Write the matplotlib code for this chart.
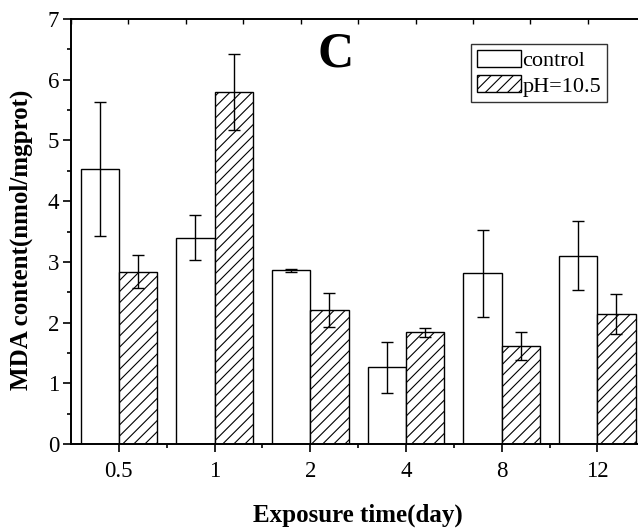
import numpy as np
import matplotlib.pyplot as plt
from matplotlib.ticker import MultipleLocator, FixedLocator

plt.rcParams['font.family'] = ['Liberation Serif', 'DejaVu Serif']
plt.rcParams['hatch.linewidth'] = 0.8

days = ['0.5', '1', '2', '4', '8', '12']
control = [4.53, 3.40, 2.86, 1.26, 2.81, 3.10]
control_err = [1.11, 0.37, 0.02, 0.42, 0.72, 0.57]
ph = [2.84, 5.80, 2.21, 1.84, 1.61, 2.14]
ph_err = [0.27, 0.62, 0.28, 0.07, 0.23, 0.33]

fig = plt.figure(figsize=(6.38, 5.29), dpi=100)
ax = fig.add_axes([0.1113, 0.1607, 0.9, 0.8033])

x = np.arange(len(days))
w = 0.4
err_kw = dict(ecolor='black', elinewidth=1, capsize=4.5, capthick=1)
ax.bar(x - w / 2, control, w, yerr=control_err, color='white', edgecolor='black',
       linewidth=1, label='control', error_kw=err_kw)
ax.bar(x + w / 2, ph, w, yerr=ph_err, color='white', edgecolor='black',
       linewidth=1, hatch='///', label='pH=10.5', error_kw=err_kw)

ax.set_xlim(-0.5, 5.5)
ax.set_ylim(0, 7)
ax.set_xticks(x)
ax.set_xticklabels(days)
ax.xaxis.set_minor_locator(FixedLocator(x[:-1] + 0.5))
ax.yaxis.set_major_locator(MultipleLocator(1))
ax.yaxis.set_minor_locator(MultipleLocator(0.5))
ax.tick_params(axis='both', which='major', direction='out', length=5.5, width=1.2,
               labelsize=16.5, pad=3)
ax.tick_params(axis='both', which='minor', direction='out', length=3, width=1.2)
ax.tick_params(axis='x', which='major', pad=7)
for s in ['left', 'bottom', 'top']:
    ax.spines[s].set_linewidth(1.4)
ax.spines['right'].set_visible(False)

# top axis ticks pointing inward
top = ax.secondary_xaxis('top')
top.set_xticks(np.arange(-0.5, 5.51, 0.6))
top.tick_params(direction='in', length=3.5, width=1, labeltop=False)
top.spines['top'].set_visible(False)

ax.set_xlabel('Exposure time(day)', fontsize=18, fontweight='bold', labelpad=15)
ax.set_ylabel('MDA content(nmol/mgprot)', fontsize=18, fontweight='bold')
ax.yaxis.set_label_coords(-0.066, 0.48)
ax.text(2.26, 6.42, 'C', fontsize=36, fontweight='bold', ha='center', va='center')

leg = ax.legend(loc='upper left', bbox_to_anchor=(0.697, 0.941), fontsize=16,
                frameon=True, fancybox=False, edgecolor='black', borderpad=0.25,
                handlelength=2.0, handleheight=0.8, handletextpad=0.05,
                labelspacing=0.2, borderaxespad=0)
leg.get_frame().set_linewidth(1)

fig.savefig('out.png', dpi=100)
